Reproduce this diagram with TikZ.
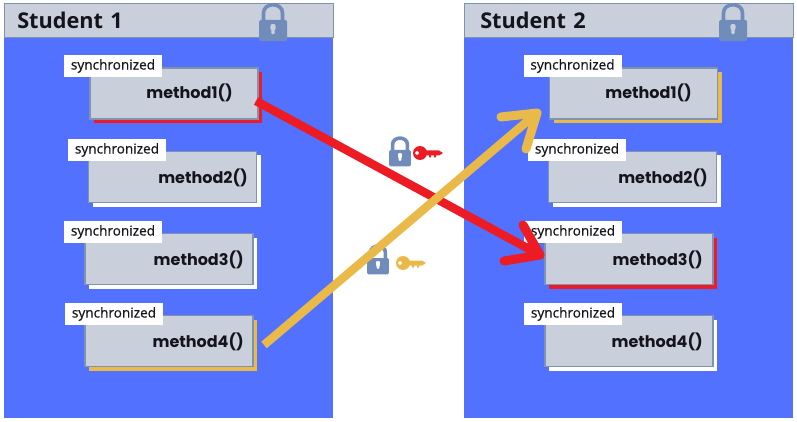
\documentclass[tikz,border=0pt]{standalone}
\usepackage{fontspec}
\setmainfont{Open Sans}
\newfontfamily\methodfont{Poppins}
\newfontfamily\syncfont[FakeBold=0.5]{Open Sans}
\usetikzlibrary{shadows}
\definecolor{panelblue}{HTML}{5271FF}
\definecolor{boxgrey}{HTML}{C9CFDB}
\definecolor{edgegrey}{HTML}{7F93AE}
\definecolor{lockblue}{HTML}{6F8CBA}
\definecolor{keyred}{HTML}{ED1C24}
\definecolor{keyyellow}{HTML}{E9B949}
\definecolor{inkdark}{HTML}{14141C}
\tikzset{
  panelbox/.style={fill=panelblue,minimum width=329pt,minimum height=415pt,anchor=north west,inner sep=0pt},
  headbox/.style={fill=boxgrey,draw=edgegrey,line width=0.5pt,minimum height=34pt,text width=297pt,inner xsep=16pt,inner ysep=0pt,anchor=north west,align=left,text=inkdark,font=\fontsize{21.7}{24}\selectfont\bfseries},
  methodbox/.style={fill=boxgrey,draw=edgegrey,line width=1.2pt,minimum width=168pt,minimum height=51pt,inner sep=0pt},
  whiteshadow/.style={general shadow={fill=white,shadow xshift=4pt,shadow yshift=-4pt}},
  redshadow/.style={general shadow={fill=keyred,shadow xshift=4pt,shadow yshift=-4pt}},
  yellowshadow/.style={general shadow={fill=keyyellow,shadow xshift=4pt,shadow yshift=-4pt}},
  methodtext/.style={anchor=east,inner sep=0pt,text=inkdark,font=\methodfont\fontsize{16}{19}\selectfont\bfseries},
  synclabel/.style={fill=white,minimum width=98pt,minimum height=22pt,inner sep=0pt,text=inkdark,font=\syncfont\fontsize{13.6}{16}\selectfont},
  passline/.style={line width=8.5pt},
  passhead/.style={line width=9pt,line cap=round,line join=round},
  lockicon/.pic={
    \draw[lockblue,line width=3.6pt] (-9.5,2) -- (-9.5,-7) .. controls (-9.5,-18) and (9.5,-18) .. (9.5,-7) -- (9.5,2);
    \fill[lockblue,even odd rule,rounded corners=1.5pt] (-14,0) rectangle (14,21)
      (-2,14.5) -- (2,14.5) -- (1.5,9.5) .. controls (4,7) and (2,4) .. (0,4) .. controls (-2,4) and (-4,7) .. (-1.5,9.5) -- cycle;
  },
  keyicon/.pic={
    \fill[pic actions,even odd rule] (0,0) circle (7) (-3,0) circle (2);
    \fill[pic actions] (5,-2.5) rectangle (19,2.5) (19,-2.5) -- (23,0) -- (19,2.5) -- cycle
      (9,2) rectangle (11,4.5) (14,2) rectangle (16,4.5);
  }
}
\begin{document}
\begin{tikzpicture}[x=1pt,y=-1pt]
\useasboundingbox (0,0) rectangle (797,422);

% student panels
\node[panelbox] (panelone) at (4,3) {};
\node[panelbox] (paneltwo) at (464,3) {};
\node[headbox,inner xsep=13pt,text width=303pt] (headone) at (4,3) {Student 1};
\node[headbox] (headtwo) at (464,3) {Student 2};
\pic at (273,20) {lockicon};
\pic at (733,20) {lockicon};

% methods of student 1
\node[methodbox,redshadow] (leftone) at (174,93.5) {};
\node[methodbox,whiteshadow] (lefttwo) at (172.5,177) {};
\node[methodbox,whiteshadow] (leftthree) at (169,259) {};
\node[methodbox,yellowshadow] (leftfour) at (169,341) {};
\node[methodtext] (lefttextone) at (233,93) {method1()};
\node[methodtext] (lefttexttwo) at (248,178) {method2()};
\node[methodtext] (lefttextthree) at (244,260) {method3()};
\node[methodtext] (lefttextfour) at (244,342) {method4()};
\node[synclabel] (leftsyncone) at (113,66) {synchronized};
\node[synclabel] (leftsynctwo) at (117,150) {synchronized};
\node[synclabel] (leftsyncthree) at (113,232) {synchronized};
\node[synclabel] (leftsyncfour) at (114,314) {synchronized};

% methods of student 2
\node[methodbox,yellowshadow] (rightone) at (633.5,93.5) {};
\node[methodbox,whiteshadow] (righttwo) at (632.5,177) {};
\node[methodbox,redshadow] (rightthree) at (629,259) {};
\node[methodbox,whiteshadow] (rightfour) at (629,341) {};
\node[methodtext] (righttextone) at (692,93) {method1()};
\node[methodtext] (righttexttwo) at (708,178) {method2()};
\node[methodtext] (righttextthree) at (703,260) {method3()};
\node[methodtext] (righttextfour) at (703,342) {method4()};
\node[synclabel] (rightsyncone) at (572.5,66) {synchronized};
\node[synclabel] (rightsynctwo) at (577,150) {synchronized};
\node[synclabel] (rightsyncthree) at (573,232) {synchronized};
\node[synclabel] (rightsyncfour) at (573,314) {synchronized};

% locks and keys in between
\pic[scale=0.78] at (400,150) {lockicon};
\pic[scale=0.78] at (378,258) {lockicon};
\pic[fill=keyred] at (420,153) {keyicon};
\pic[fill=keyyellow] at (403,263) {keyicon};

% who holds what
\coordinate (redstart) at (256,101);
\coordinate (redend) at (540,255);
\coordinate (redbarbup) at (523,225);
\coordinate (redbarbdown) at (504,261);
\coordinate (yellowstart) at (264,345);
\coordinate (yellowend) at (537,113);
\coordinate (yellowbarbup) at (501,117);
\coordinate (yellowbarbdown) at (526,149);
\draw[passline,keyred] (redstart) -- (redend);
\draw[passhead,keyred] (redbarbup) -- (redend) -- (redbarbdown);
\draw[passline,keyyellow] (yellowstart) -- (yellowend);
\draw[passhead,keyyellow] (yellowbarbup) -- (yellowend) -- (yellowbarbdown);
\end{tikzpicture}
\end{document}
